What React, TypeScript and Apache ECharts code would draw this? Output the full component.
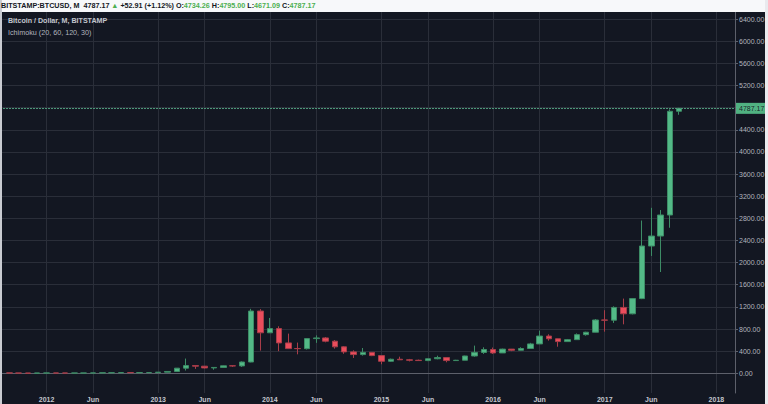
import React, { useEffect, useRef } from 'react';
import * as echarts from 'echarts';

// Monthly candles, Sep 2011 .. Sep 2017 (BITSTAMP:BTCUSD)
const candleMonths: string[] = [
  '2011-09','2011-10','2011-11','2011-12',
  '2012-01','2012-02','2012-03','2012-04','2012-05','2012-06','2012-07','2012-08','2012-09','2012-10','2012-11','2012-12',
  '2013-01','2013-02','2013-03','2013-04','2013-05','2013-06','2013-07','2013-08','2013-09','2013-10','2013-11','2013-12',
  '2014-01','2014-02','2014-03','2014-04','2014-05','2014-06','2014-07','2014-08','2014-09','2014-10','2014-11','2014-12',
  '2015-01','2015-02','2015-03','2015-04','2015-05','2015-06','2015-07','2015-08','2015-09','2015-10','2015-11','2015-12',
  '2016-01','2016-02','2016-03','2016-04','2016-05','2016-06','2016-07','2016-08','2016-09','2016-10','2016-11','2016-12',
  '2017-01','2017-02','2017-03','2017-04','2017-05','2017-06','2017-07','2017-08','2017-09'
];
const opens: number[] = [
  7.0, 5.1, 3.25, 2.97,
  4.72, 5.5, 4.86, 4.82, 4.96, 5.15, 6.6, 9.3, 10.2, 12.4, 11.1, 12.5,
  13.5, 20.4, 33.2, 93, 139, 129, 97, 106, 135, 133, 204, 1125,
  732, 808, 549, 448, 445, 627, 639, 580, 478, 387, 338, 378,
  320, 217, 254, 244, 236, 230, 263, 284, 230, 236, 313, 377,
  430, 368, 437, 416, 448, 531, 673, 624, 573, 608, 698, 742,
  963, 960, 1190, 1075, 1350, 2300, 2480, 2860, 4734.26
];
const highs: number[] = [
  8.0, 5.3, 3.6, 4.8,
  7.4, 6.1, 5.4, 5.2, 5.2, 6.7, 9.5, 15.4, 12.5, 12.9, 12.5, 13.9,
  21.0, 33.5, 95, 266, 140, 131, 110, 140, 140, 215, 1165, 1160,
  1000, 850, 717, 555, 630, 685, 656, 600, 490, 415, 457, 382,
  320, 265, 300, 260, 247, 267, 318, 285, 243, 318, 500, 470,
  465, 445, 440, 470, 550, 770, 705, 626, 620, 720, 750, 980,
  1140, 1210, 1350, 1360, 2760, 2990, 2950, 4770, 4795.0
];
const lows: number[] = [
  4.5, 2.2, 2.0, 2.8,
  4.6, 4.3, 4.7, 4.8, 4.9, 5.1, 6.5, 7.1, 9.9, 9.9, 10.4, 12.5,
  13.2, 19.1, 33, 50, 80, 88, 65, 97, 116, 115, 199, 410,
  730, 400, 438, 343, 430, 550, 560, 446, 352, 277, 320, 310,
  163, 208, 240, 215, 227, 220, 253, 199, 225, 236, 300, 350,
  350, 366, 400, 413, 440, 528, 590, 480, 570, 605, 680, 740,
  752, 910, 885, 1065, 1340, 2120, 1830, 2630, 4671.09
];
const closes: number[] = [
  5.1, 3.25, 2.97, 4.72,
  5.5, 4.86, 4.82, 4.96, 5.15, 6.6, 9.3, 10.2, 12.4, 11.1, 12.5, 13.5,
  20.4, 33.2, 93, 139, 129, 97, 106, 135, 133, 204, 1125, 732,
  808, 549, 446, 445, 627, 639, 580, 478, 387, 338, 378, 320,
  217, 254, 244, 236, 230, 263, 284, 230, 236, 313, 377, 430,
  368, 437, 416, 448, 531, 673, 624, 573, 608, 698, 742, 963,
  960, 1190, 1075, 1350, 2300, 2480, 2860, 4734.26, 4787.17
];
const yTickValues: number[] = [0, 400, 800, 1200, 1600, 2000, 2400, 2800, 3200, 3600, 4000, 4400, 4800, 5200, 5600, 6000, 6400];
const lastPrice = 4787.17;

// x axis categories: Aug 2011 .. Mar 2018
const axisMonths: string[] = [];
for (let y = 2011; y <= 2018; y++) {
  for (let m = 1; m <= 12; m++) {
    const key = `${y}-${m < 10 ? '0' + m : m}`;
    if (key >= '2011-08' && key <= '2018-03') axisMonths.push(key);
  }
}
const monthNames = ['Jan','Feb','Mar','Apr','May','Jun','Jul','Aug','Sep','Oct','Nov','Dec'];

const candleData = candleMonths.map((mo, i) => [axisMonths.indexOf(mo), opens[i], closes[i], lows[i], highs[i]]);

const isMarked = (_i: number, v: string) => {
  const m = v.slice(5);
  return m === '01' || m === '06';
};

const FONT = '"Liberation Sans", Arial, sans-serif';
const UP = '#53b987';
const DOWN = '#eb4d5c';

export default function App() {
  const ref = useRef<HTMLDivElement>(null);
  useEffect(() => {
    document.body.style.margin = '0';
    const chart = echarts.init(ref.current!, null, { renderer: 'svg' });
    const option: any = {
      animation: false,
      backgroundColor: '#131722',
      textStyle: { fontFamily: FONT },
      title: [
        {
          left: 1, top: 2, padding: 0, z: 200,
          text: '{k|BITSTAMP:BTCUSD, M}  {n|4787.17} {g|▲} {n|+52.91 (+1.12%)} {k|O:}{g|4734.26} {k|H:}{g|4795.00} {k|L:}{g|4671.09} {k|C:}{g|4787.17}',
          textStyle: {
            fontSize: 7,
            rich: {
              k: { fontSize: 7.2, fontWeight: 'bold', color: '#131722', fontFamily: FONT },
              n: { fontSize: 7.2, fontWeight: 'bold', color: '#131722', fontFamily: FONT },
              g: { fontSize: 7.2, fontWeight: 'bold', color: '#4caf50', fontFamily: FONT },
            },
          },
        },
        {
          left: 8, top: 17, padding: 0, itemGap: 5,
          text: 'Bitcoin / Dollar, M, BITSTAMP',
          subtext: 'Ichimoku (20, 60, 120, 30)',
          textStyle: { fontSize: 7.1, fontWeight: 'bold', color: '#c3c6ce', fontFamily: FONT },
          subtextStyle: { fontSize: 7.2, color: '#b2b5be', fontFamily: FONT },
        },
      ],
      graphic: [
        { type: 'rect', left: 0, top: 0, z: 100, shape: { width: 768, height: 12 }, style: { fill: '#f7f8fa' } },
        { type: 'rect', right: 0, top: 0, z: 100, shape: { width: 3, height: 404 }, style: { fill: '#e9eaee' } },
        { type: 'rect', left: 0, top: 0, z: 100, shape: { width: 2, height: 404 }, style: { fill: '#c9cbd1' } },
      ],
      grid: { left: 0, right: 33, top: 12, bottom: 11, containLabel: false },
      xAxis: {
        type: 'category',
        data: axisMonths,
        boundaryGap: false,
        axisLine: { show: true, lineStyle: { color: '#5d606b', width: 1 } },
        axisTick: { show: false },
        axisLabel: {
          interval: isMarked,
          formatter: (v: string) => (v.slice(5) === '01' ? v.slice(0, 4) : monthNames[parseInt(v.slice(5), 10) - 1]),
          color: '#c3c6ce',
          fontSize: 7,
          fontWeight: 'bold',
          margin: 3,
          fontFamily: FONT,
        },
        splitLine: { show: true, interval: isMarked, lineStyle: { color: '#2a2e39', width: 1 } },
      },
      yAxis: {
        type: 'value',
        position: 'right',
        min: -356,
        max: 6528,
        scale: true,
        axisLine: { show: true, lineStyle: { color: '#5d606b', width: 1 } },
        axisTick: { show: true, length: 3, customValues: yTickValues, lineStyle: { color: '#5d606b' } },
        axisLabel: {
          customValues: yTickValues,
          formatter: (v: number) => v.toFixed(2),
          color: '#b2b5be',
          fontSize: 7,
          margin: 4,
          fontFamily: FONT,
        },
        splitLine: { show: true, lineStyle: { color: '#2a2e39', width: 1 } },
      },
      series: [
        {
          type: 'candlestick',
          data: candleData,
          encode: { x: 0, y: [1, 2, 3, 4] },
          barWidth: 6,
          itemStyle: {
            color: UP,
            color0: DOWN,
            borderColor: '#3d8c66',
            borderColor0: '#a83d49',
            borderWidth: 1,
          },
          markLine: {
            silent: true,
            symbol: 'none',
            data: [{ yAxis: lastPrice }],
            lineStyle: { color: '#4f9e7e', type: [2, 1], width: 1, opacity: 0.95 },
            label: {
              show: true,
              position: 'end',
              distance: 1,
              formatter: () => lastPrice.toFixed(2),
              backgroundColor: UP,
              color: '#131722',
              fontSize: 7,
              padding: [2, 3, 2, 3],
              fontFamily: FONT,
            },
          },
        },
      ],
    };
    chart.setOption(option);
    return () => chart.dispose();
  }, []);
  return <div ref={ref} style={{ width: 768, height: 404 }} />;
}
